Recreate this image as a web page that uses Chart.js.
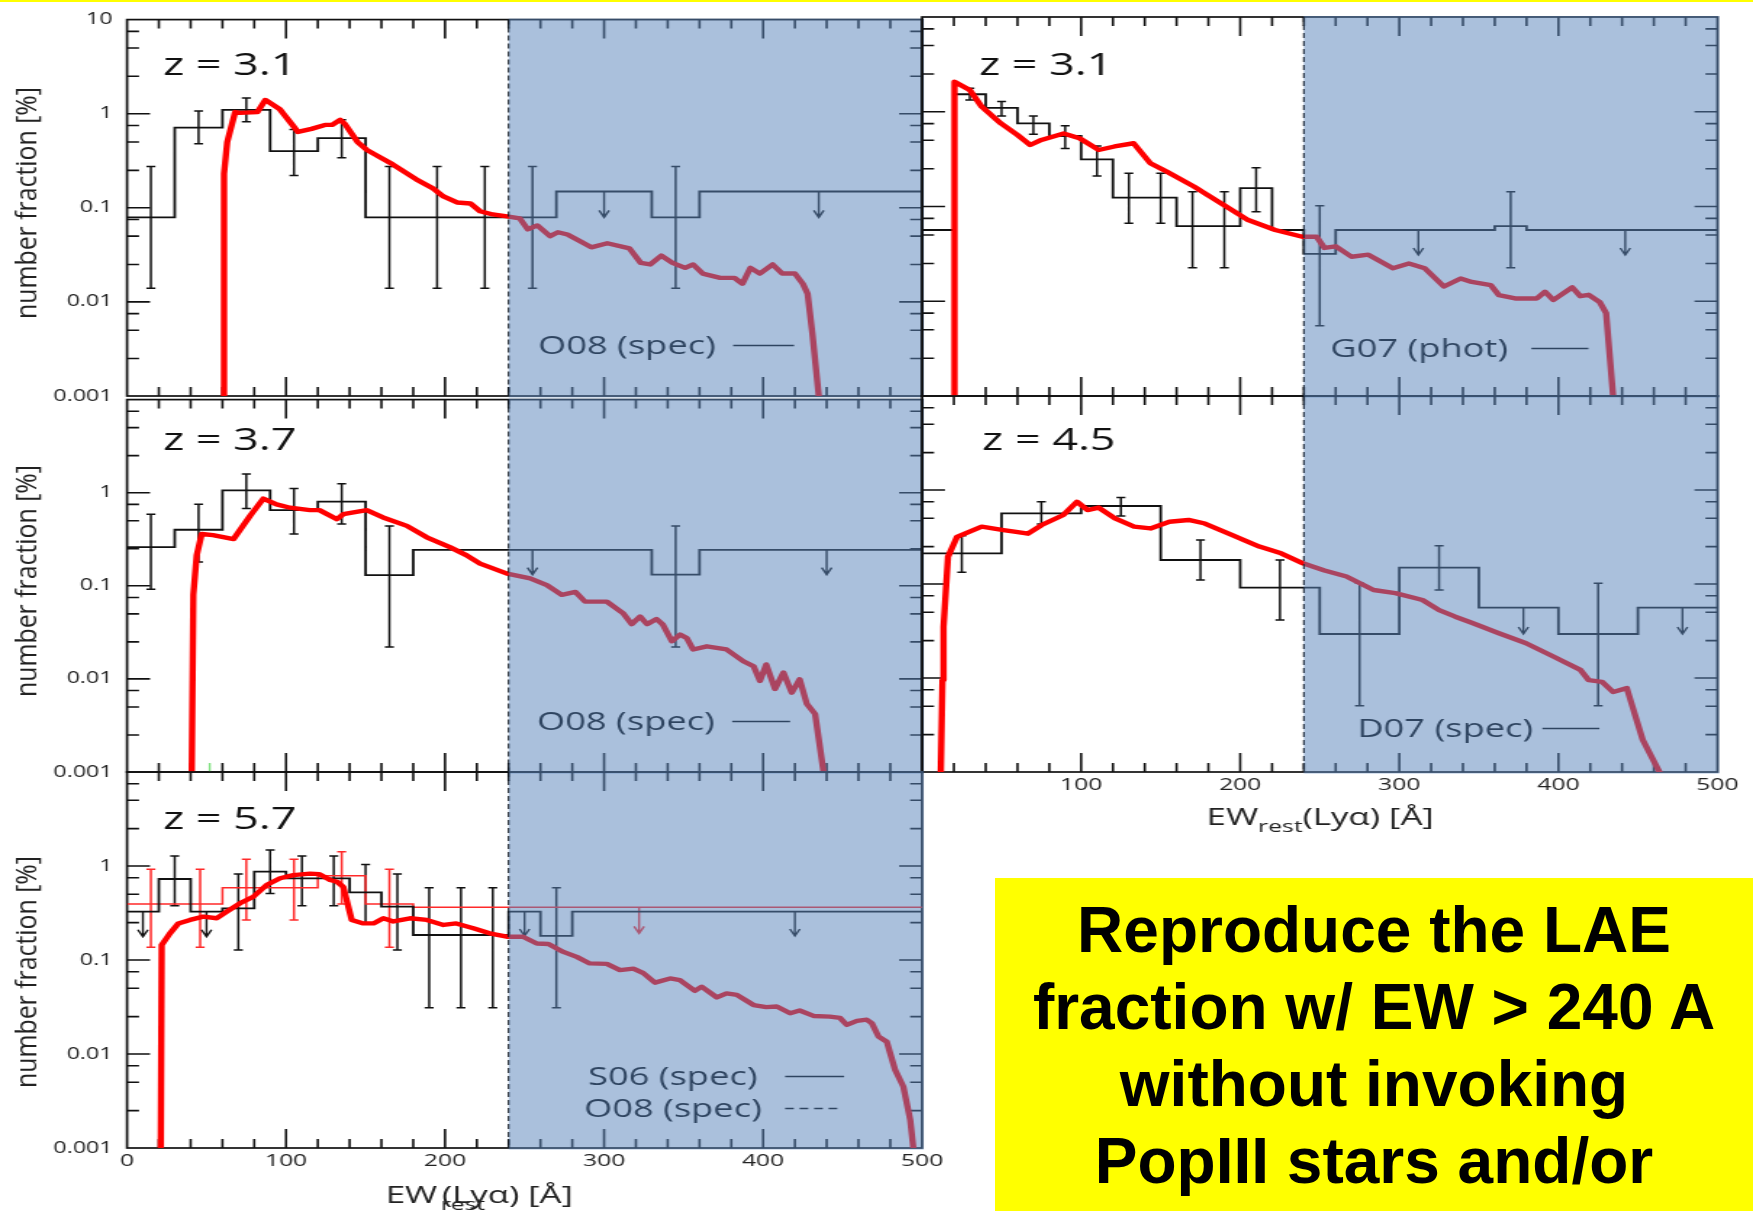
<!DOCTYPE html>
<html>
<head>
<meta charset="utf-8">
<title>LAE equivalent width distributions</title>
<script src="https://cdn.jsdelivr.net/npm/chart.js@4.4.1/dist/chart.umd.min.js"></script>
<style>
  html, body { margin: 0; padding: 0; background: #fff; }
  body { width: 1753px; height: 1211px; position: relative; overflow: hidden; }
  #topline { position: absolute; left: 0; top: 0; width: 1753px; height: 2px; background: #ffff00; }
  canvas { position: absolute; }
  #note {
    position: absolute; left: 995px; top: 878px; width: 758px; height: 333px;
    box-sizing: border-box; padding-top: 14px;
    background: #ffff00; color: #000; text-align: center;
    font-family: "Liberation Sans", Arial, sans-serif; font-weight: bold;
    font-size: 64px; line-height: 77px;
  }
</style>
</head>
<body>
<div id="topline"></div>
<div id="note">Reproduce the LAE<br>fraction w/ EW &gt; 240 A<br>without invoking<br>PopIII stars and/or</div>
<script>
// ---- z = 3.1, Ouchi et al. 2008 (spec) ----
const model31O08 = [[61,0.001],[61,0.23],[63,0.50],[68,1.04],[71,1.02],[82,1.04],[87,1.40],[96,1.12],[104,0.76],[107.5,0.64],[116,0.69],[124.5,0.76],[129,0.76],[134,0.86],[137,0.78],[145,0.50],[151,0.41],[167,0.29],[182,0.20],[192.5,0.16],[199,0.132],[207.5,0.114],[216,0.111],[222,0.092],[230,0.085],[239,0.081],[247,0.077],[252,0.059],[258,0.065],[266,0.050],[271,0.055],[277,0.052],[292,0.038],[302,0.042],[316,0.037],[323,0.026],[329,0.025],[336,0.031],[343,0.026],[351,0.023],[356,0.025],[362,0.020],[373,0.018],[382,0.018],[387,0.0156],[392,0.023],[398,0.020],[406,0.025],[412,0.020],[420,0.020],[425,0.0156],[428,0.0122],[431,0.0046],[435,0.001]];
const edges31O08 = [0,30,60,90,120,150,270,330,360,500];
const frac31O08 = [0.079,0.71,1.1,0.40,0.55,0.079,0.149,0.079,0.149];
const errs31O08 = [[15,0.014,0.274],[45,0.48,1.07],[75,0.82,1.47],[105,0.22,0.68],[135,0.34,0.86],[165,0.014,0.274],[195,0.014,0.274],[225,0.014,0.274],[255,0.014,0.274],[345,0.014,0.274]];
const lims31O08 = [[300,0.149,0.079],[435,0.149,0.079]];

// ---- z = 3.1, Gronwall et al. 2007 (phot) ----
const model31G07 = [[20.4,0.001],[20.4,2.07],[30,1.70],[37.5,1.13],[49.5,0.755],[60,0.569],[68,0.446],[75,0.504],[89,0.59],[99,0.525],[111,0.395],[121,0.43],[133,0.465],[143.5,0.286],[154,0.233],[171,0.162],[188,0.108],[205,0.072],[222,0.0565],[239,0.048],[248,0.048],[253,0.0365],[260,0.038],[270,0.0295],[280.5,0.031],[296,0.0223],[306,0.025],[316,0.0223],[328,0.0143],[338.6,0.0174],[345.5,0.016],[357.5,0.0148],[362.6,0.0116],[372.8,0.0107],[386.5,0.0107],[391.6,0.0126],[396.8,0.0103],[408.7,0.014],[413.8,0.0113],[419,0.0117],[426,0.0098],[430,0.0075],[434.4,0.001]];
const edges31G07 = [0,20,40,60,80,100,120,160,200,220,240,260,360,380,500];
const frac31G07 = [0.0565,1.53,1.10,0.755,0.555,0.315,0.124,0.062,0.156,0.0565,0.0316,0.0565,0.062,0.0565];
const errs31G07 = [[30,1.33,1.77],[50,0.90,1.28],[70,0.578,0.90],[90,0.41,0.71],[110,0.21,0.435],[130,0.0665,0.224],[150,0.0665,0.224],[170,0.0226,0.1435],[190,0.0226,0.1435],[210,0.088,0.257],[250,0.00552,0.102],[370,0.0226,0.1435]];
const lims31G07 = [[312,0.0565,0.0308],[442,0.0565,0.0308]];

// ---- z = 3.7, Ouchi et al. 2008 (spec) ----
const model37O08 = [[40.7,0.001],[41.7,0.080],[43.8,0.212],[47,0.36],[54,0.35],[67,0.318],[77.4,0.565],[85.7,0.863],[94,0.75],[102.5,0.69],[115,0.65],[121,0.65],[132,0.52],[136,0.587],[150.7,0.65],[161,0.542],[176,0.44],[188.5,0.332],[203,0.26],[213.6,0.212],[222,0.173],[239,0.135],[253.5,0.12],[264,0.1016],[273.4,0.080],[282,0.086],[288,0.0676],[301.7,0.0676],[312,0.0507],[317.4,0.0387],[322.6,0.0468],[327,0.0387],[333,0.044],[337,0.0382],[342.6,0.0254],[347.8,0.0299],[352,0.0275],[356,0.0207],[364.6,0.0224],[377,0.0207],[387.6,0.0155],[394,0.0137],[398,0.0095],[402,0.0143],[407.5,0.0078],[412.8,0.0117],[418,0.0071],[423,0.0099],[427.5,0.0054],[432.7,0.0042],[438,0.001]];
const edges37O08 = [0,30,60,90,120,150,180,330,360,500];
const frac37O08 = [0.26,0.40,1.06,0.65,0.80,0.13,0.243,0.132,0.243];
const errs37O08 = [[15,0.092,0.587],[45,0.18,0.75],[75,0.676,1.59],[105,0.36,1.11],[135,0.46,1.25],[165,0.022,0.44],[345,0.022,0.44]];
const lims37O08 = [[255,0.243,0.132],[440,0.243,0.132]];
const stray37 = [[52,0.001],[52,0.00125]];

// ---- z = 4.5, Dawson et al. 2007 (spec) ----
const model45D07 = [[11.8,0.001],[12.8,0.0095],[13.5,0.035],[16.3,0.195],[22,0.318],[37.5,0.407],[51.2,0.375],[58,0.36],[66.6,0.343],[75.2,0.424],[88.8,0.542],[97.4,0.75],[104,0.612],[111,0.65],[121.3,0.5],[133.3,0.407],[143.6,0.39],[155.5,0.46],[167.5,0.48],[177.8,0.44],[195,0.332],[212,0.25],[225.7,0.212],[239.4,0.166],[253,0.139],[266.8,0.12],[283.8,0.0863],[297.5,0.080],[314.6,0.0676],[325,0.0528],[335.2,0.0449],[345.5,0.0387],[362.6,0.0299],[379.7,0.0234],[396.8,0.0169],[413.8,0.0122],[419,0.0095],[427.5,0.0091],[434.4,0.0071],[443,0.0078],[453,0.0022],[463.5,0.001]];
const edges45D07 = [0,50,100,150,200,250,300,350,400,450,500];
const frac45D07 = [0.212,0.565,0.676,0.18,0.0914,0.0294,0.149,0.056,0.0294,0.056];
const errs45D07 = [[25,0.133,0.327],[75,0.434,0.75],[125,0.528,0.83],[175,0.110,0.294],[225,0.0414,0.18],[275,0.00508,0.1016],[325,0.0863,0.256],[425,0.00508,0.1016]];
const lims45D07 = [[378,0.056,0.0294],[478,0.056,0.0294]];

// ---- z = 5.7, Shimasaku et al. 2006 + Ouchi et al. 2008 (spec) ----
const model57 = [[21.2,0.001],[21.8,0.1445],[27,0.192],[32.3,0.245],[39.6,0.267],[48,0.289],[56.4,0.278],[62.7,0.327],[71,0.401],[79.4,0.471],[87.8,0.628],[96.2,0.74],[104.6,0.80],[115,0.83],[121,0.82],[127.7,0.71],[132,0.68],[136,0.60],[141.3,0.267],[148.6,0.245],[155,0.245],[161.2,0.278],[167.5,0.257],[178,0.278],[188.5,0.267],[199,0.236],[207,0.245],[217.8,0.218],[228,0.192],[238.8,0.177],[249,0.177],[257.7,0.15],[265,0.148],[274.4,0.122],[282.8,0.108],[291,0.092],[301.7,0.091],[310,0.078],[318.4,0.081],[324.7,0.0724],[332,0.0574],[341.5,0.0636],[347.8,0.061],[357,0.047],[361.4,0.052],[370.9,0.040],[377,0.0442],[383.5,0.0425],[394,0.0332],[402,0.0315],[408.6,0.032],[417,0.0271],[423,0.029],[431.7,0.0254],[442,0.025],[448.4,0.0242],[452.6,0.0204],[459,0.0225],[465.2,0.0232],[468.4,0.0212],[472.6,0.0153],[477.8,0.0135],[483,0.0068],[488.2,0.0045],[492.5,0.002],[494.5,0.001]];
const edges57S06 = [0,20,40,60,80,100,140,160,180,240,260,280,500];
const frac57S06 = [0.327,0.727,0.327,0.355,0.87,0.74,0.525,0.369,0.1845,0.327,0.181,0.327];
const errs57S06 = [[30,0.378,1.28],[70,0.128,0.82],[90,0.51,1.48],[110,0.378,1.28],[130,0.378,1.28],[150,0.245,1.04],[170,0.128,0.82],[190,0.0311,0.587],[210,0.0311,0.587],[230,0.0311,0.587],[270,0.0311,0.587]];
const lims57S06 = [[10,0.327,0.177],[50,0.327,0.177],[250,0.327,0.18],[420,0.327,0.18]];
const edges57O08 = [0,60,120,150,180,500];
const frac57O08 = [0.394,0.587,0.789,0.394,0.363];
const errs57O08 = [[15,0.137,0.923],[46,0.137,0.923],[75,0.267,1.18],[105,0.267,1.18],[135,0.394,1.42],[165,0.137,0.923]];
const lims57O08 = [[322,0.363,0.192]];

// axis ticks
const yTicksTop = [0.001, 0.01, 0.1, 1, 10];
const yTicksLower = [0.001, 0.01, 0.1, 1];
const xTicksLeft = [0, 100, 200, 300, 400, 500];
const xTicksRight = [100, 200, 300, 400, 500];
const ewCut = 240;

const S = 1.45;          // horizontal stretch applied to every plot canvas
const Y_W = 60, X_H = 30;
Chart.defaults.font.family = '"Open Sans", "DejaVu Sans", sans-serif';

function stepPoints(edges, vals) {
  const pts = vals.map((v, i) => ({ x: edges[i], y: v }));
  pts.push({ x: edges[edges.length - 1], y: vals[vals.length - 1] });
  return pts;
}
const pts = arr => arr.map(([x, y]) => ({ x, y }));

function drawFrame(chart) {
  const { ctx, chartArea: a, scales: { x, y } } = chart;
  ctx.save();
  ctx.strokeStyle = '#111';
  ctx.lineWidth = 1.6;
  ctx.beginPath();
  for (let v = 20; v < 500; v += 20) {
    const px = x.getPixelForValue(v);
    const len = v % 100 === 0 ? 19 : 9;
    ctx.moveTo(px, a.bottom); ctx.lineTo(px, a.bottom - len);
    ctx.moveTo(px, a.top); ctx.lineTo(px, a.top + len);
  }
  for (let e = -3; e <= 0; e++) {
    [1, 2.5, 5, 7.5].forEach(m => {
      const v = m * Math.pow(10, e);
      if (v <= 0.001) return;
      const py = y.getPixelForValue(v);
      const len = (m === 1 ? 23 : 12) / S;
      ctx.moveTo(a.left, py); ctx.lineTo(a.left + len, py);
      ctx.moveTo(a.right, py); ctx.lineTo(a.right - len, py);
    });
  }
  ctx.stroke();
  ctx.lineWidth = 1.7;
  ctx.strokeRect(a.left, a.top, a.right - a.left, a.bottom - a.top);
  ctx.restore();
}

function drawErrors(chart, bars, color) {
  const { ctx, scales: { x, y } } = chart;
  const cap = 4.5 / S;
  ctx.save();
  ctx.strokeStyle = color;
  ctx.lineWidth = 1.5;
  ctx.beginPath();
  bars.forEach(([ew, lo, hi]) => {
    const px = x.getPixelForValue(ew), pl = y.getPixelForValue(lo), ph = y.getPixelForValue(hi);
    ctx.moveTo(px, pl); ctx.lineTo(px, ph);
    ctx.moveTo(px - cap, pl); ctx.lineTo(px + cap, pl);
    ctx.moveTo(px - cap, ph); ctx.lineTo(px + cap, ph);
  });
  ctx.stroke();
  ctx.restore();
}

function drawLimits(chart, lims, color) {
  const { ctx, scales: { x, y } } = chart;
  ctx.save();
  ctx.strokeStyle = color;
  ctx.lineWidth = 1.4;
  ctx.beginPath();
  lims.forEach(([ew, from, to]) => {
    const px = x.getPixelForValue(ew), p1 = y.getPixelForValue(from), p2 = y.getPixelForValue(to);
    ctx.moveTo(px, p1); ctx.lineTo(px, p2);
    ctx.moveTo(px - 5 / S, p2 - 7); ctx.lineTo(px, p2); ctx.lineTo(px + 5 / S, p2 - 7);
  });
  ctx.stroke();
  ctx.restore();
}

function buildPanel(p) {
  const cv = document.createElement('canvas');
  cv.width = p.iw;
  cv.height = p.ch;
  cv.style.left = p.cl + 'px';
  cv.style.top = p.ct + 'px';
  cv.style.width = (p.iw * S) + 'px';
  cv.style.height = p.ch + 'px';
  document.body.insertBefore(cv, document.getElementById('note'));

  const ix = v => (v - p.cl) / S;
  const iy = v => v - p.ct;
  const [ax1, ay1, ax2, ay2] = p.area;

  const decor = {
    id: 'decor',
    beforeDatasetsDraw(chart) {
      drawFrame(chart);
      p.errors.forEach(e => drawErrors(chart, e.bars, e.color));
      p.limits.forEach(l => drawLimits(chart, l.lims, l.color));
    },
    afterDatasetsDraw(chart) {
      const { ctx, chartArea: a, scales: { x } } = chart;
      const xc = x.getPixelForValue(ewCut);
      ctx.save();
      // cut line at EW = 240
      ctx.strokeStyle = '#000';
      ctx.lineWidth = 1.1;
      ctx.setLineDash([5, 3]);
      ctx.beginPath(); ctx.moveTo(xc, a.top); ctx.lineTo(xc, a.bottom); ctx.stroke();
      ctx.setLineDash([]);
      // redshift label
      ctx.fillStyle = '#111';
      ctx.font = '31px "Open Sans"';
      ctx.textBaseline = 'alphabetic';
      ctx.fillText(p.z, ix(p.zAt[0]), iy(p.zAt[1]));
      // survey key
      ctx.font = '25px "Open Sans"';
      ctx.strokeStyle = '#000';
      ctx.lineWidth = 1.6;
      p.keys.forEach(k => {
        ctx.fillStyle = '#000';
        ctx.fillText(k.text, ix(k.x), iy(k.base));
        ctx.setLineDash(k.dash ? [6, 4] : []);
        ctx.beginPath();
        ctx.moveTo(ix(k.line[0]), iy(k.base - 8.5));
        ctx.lineTo(ix(k.line[1]), iy(k.base - 8.5));
        ctx.stroke();
      });
      ctx.setLineDash([]);
      // shaded high-EW region
      ctx.fillStyle = 'rgba(89,132,186,0.515)';
      ctx.fillRect(xc, a.top - 1, a.right + 1.2 - xc, a.bottom - a.top + 2.5);
      ctx.restore();
    },
    afterDraw(chart) {
      const { ctx } = chart;
      ctx.save();
      ctx.fillStyle = '#222';
      if (p.yTitleAt) {
        const label = 'number fraction [%]';
        ctx.translate(ix(28), iy(p.yTitleAt));
        ctx.rotate(-Math.PI / 2);
        ctx.font = '20px "Open Sans"';
        const w = ctx.measureText(label).width;
        ctx.scale(232 / w, 1);
        ctx.textAlign = 'center';
        ctx.textBaseline = 'middle';
        ctx.fillText(label, 0, 0);
        ctx.setTransform(1, 0, 0, 1, 0, 0);
      }
      if (p.xTitleAt) {
        const big = '24px "Open Sans"', small = '17px "Open Sans"';
        ctx.font = big; const w1 = ctx.measureText('EW').width;
        const w3 = ctx.measureText('(Ly\u03b1) [\u00c5]').width;
        ctx.font = small; const w2 = ctx.measureText('rest').width;
        let x0 = ix(p.xTitleAt[0]) - (w1 + w2 + w3) / 2;
        const base = iy(p.xTitleAt[1]);
        ctx.textBaseline = 'alphabetic';
        ctx.font = big; ctx.fillText('EW', x0, base); x0 += w1;
        ctx.font = small; ctx.fillText('rest', x0, base + 7); x0 += w2;
        ctx.font = big; ctx.fillText('(Ly\u03b1) [\u00c5]', x0, base);
      }
      ctx.restore();
    }
  };

  const datasets = [{
    data: pts(p.model), borderColor: '#ff0000', borderWidth: 4.4,
    borderJoinStyle: 'round', borderCapStyle: 'round', pointRadius: 0
  }];
  p.hists.forEach(h => datasets.push({
    data: stepPoints(h.edges, h.frac), borderColor: h.color, borderWidth: h.width,
    stepped: true, pointRadius: 0
  }));
  if (p.stray) datasets.push({ data: pts(p.stray), borderColor: '#7fe07f', borderWidth: 1.4, pointRadius: 0 });

  new Chart(cv, {
    type: 'line',
    data: { datasets },
    options: {
      responsive: false,
      animation: false,
      events: [],
      layout: {
        padding: {
          left: ix(ax1) - (p.yTicks ? Y_W : 0),
          top: iy(ay1),
          right: p.iw - ix(ax2),
          bottom: p.ch - iy(ay2) - (p.xTicks ? X_H : 0)
        }
      },
      plugins: { legend: { display: false }, tooltip: { enabled: false } },
      scales: {
        x: {
          type: 'linear', min: 0, max: 500, display: !!p.xTicks,
          grid: { display: false, drawTicks: false }, border: { display: false },
          afterBuildTicks: s => { if (p.xTicks) s.ticks = p.xTicks.map(v => ({ value: v })); },
          afterFit: s => { s.height = p.xTicks ? X_H : 0; },
          ticks: { padding: 3, autoSkip: false, maxRotation: 0, color: '#222', font: { size: 17 }, callback: v => String(v) }
        },
        y: {
          type: 'logarithmic', min: 0.001, max: 10, display: !!p.yTicks,
          grid: { display: false, drawTicks: false }, border: { display: false },
          afterBuildTicks: s => { if (p.yTicks) s.ticks = p.yTicks.map(v => ({ value: v })); },
          afterFit: s => { s.width = p.yTicks ? Y_W : 0; },
          ticks: { padding: 10, autoSkip: false, color: '#222', font: { size: 16 }, callback: v => String(v) }
        }
      }
    },
    plugins: [decor]
  });
}

buildPanel({
  cl: 0, ct: 0, iw: 662, ch: 430, area: [127, 17, 922, 396],
  yTicks: yTicksTop, yTitleAt: 203,
  model: model31O08,
  hists: [{ edges: edges31O08, frac: frac31O08, color: '#111', width: 1.8 }],
  errors: [{ bars: errs31O08, color: '#111' }],
  limits: [{ lims: lims31O08, color: '#111' }],
  z: 'z = 3.1', zAt: [163, 75],
  keys: [{ text: 'O08 (spec)', x: 538, base: 354, line: [733, 794] }]
});

buildPanel({
  cl: 900, ct: 0, iw: 590, ch: 430, area: [922, 17, 1717, 396],
  model: model31G07,
  hists: [{ edges: edges31G07, frac: frac31G07, color: '#111', width: 1.8 }],
  errors: [{ bars: errs31G07, color: '#111' }],
  limits: [{ lims: lims31G07, color: '#111' }],
  z: 'z = 3.1', zAt: [979, 75],
  keys: [{ text: 'G07 (phot)', x: 1330, base: 357, line: [1531, 1588] }]
});

buildPanel({
  cl: 0, ct: 380, iw: 662, ch: 420, area: [127, 396, 922, 772],
  yTicks: yTicksLower, yTitleAt: 581,
  model: model37O08, stray: stray37,
  hists: [{ edges: edges37O08, frac: frac37O08, color: '#111', width: 1.8 }],
  errors: [{ bars: errs37O08, color: '#111' }],
  limits: [{ lims: lims37O08, color: '#111' }],
  z: 'z = 3.7', zAt: [163, 450],
  keys: [{ text: 'O08 (spec)', x: 537, base: 730, line: [732, 790] }]
});

buildPanel({
  cl: 900, ct: 380, iw: 590, ch: 460, area: [922, 396, 1717, 772],
  xTicks: xTicksRight, xTitleAt: [1320, 825],
  model: model45D07,
  hists: [{ edges: edges45D07, frac: frac45D07, color: '#111', width: 1.8 }],
  errors: [{ bars: errs45D07, color: '#111' }],
  limits: [{ lims: lims45D07, color: '#111' }],
  z: 'z = 4.5', zAt: [982, 450],
  keys: [{ text: 'D07 (spec)', x: 1357, base: 737, line: [1542, 1599] }]
});

buildPanel({
  cl: 0, ct: 750, iw: 662, ch: 461, area: [127, 772, 922, 1148],
  yTicks: yTicksLower, yTitleAt: 972,
  xTicks: xTicksLeft, xTitleAt: [525, 1203],
  model: model57,
  hists: [
    { edges: edges57S06, frac: frac57S06, color: '#111', width: 1.8 },
    { edges: edges57O08, frac: frac57O08, color: '#ff2a2a', width: 1.5 }
  ],
  errors: [{ bars: errs57S06, color: '#111' }, { bars: errs57O08, color: '#ff2a2a' }],
  limits: [{ lims: lims57S06, color: '#111' }, { lims: lims57O08, color: '#ff2a2a' }],
  z: 'z = 5.7', zAt: [163, 829],
  keys: [
    { text: 'S06 (spec)', x: 588, base: 1085, line: [785, 844] },
    { text: 'O08 (spec)', x: 584, base: 1117, line: [785, 843], dash: true }
  ]
});
</script>
</body>
</html>
